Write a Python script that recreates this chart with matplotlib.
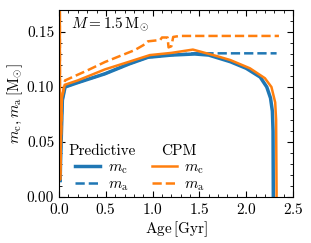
import matplotlib
matplotlib.use("Agg")
import matplotlib.pyplot as plt

plt.rcParams["font.family"] = "serif"
plt.rcParams["font.serif"] = ["cmr10"]
plt.rcParams["mathtext.fontset"] = "cm"
plt.rcParams["axes.formatter.use_mathtext"] = True
plt.rcParams["font.size"] = 11

# Predictive model
pred_age = [0.012, 0.015, 0.035, 0.064, 0.2, 0.49, 0.75, 0.95, 1.2, 1.45, 1.6, 1.83,
            2.0, 2.15, 2.22, 2.26, 2.28, 2.287, 2.29]
pred_mc = [0.015, 0.03, 0.088, 0.100, 0.104, 0.112, 0.121, 0.127, 0.129, 0.130,
           0.129, 0.123, 0.117, 0.109, 0.100, 0.090, 0.078, 0.06, 0.0]
pred_ma_age = [0.012, 0.015, 0.035, 0.064, 0.2, 0.49, 0.75, 0.95, 1.2, 1.45, 2.325]
pred_ma = [0.015, 0.03, 0.088, 0.100, 0.104, 0.112, 0.121, 0.127, 0.129, 0.1306, 0.1306]

# CPM
cpm_age = [0.008, 0.010, 0.03, 0.06, 0.2, 0.49, 0.75, 0.97, 1.2, 1.43, 1.69, 1.83,
           2.04, 2.2, 2.27, 2.31, 2.32, 2.325]
cpm_mc = [0.18, 0.016, 0.09, 0.102, 0.106, 0.116, 0.123, 0.129, 0.131, 0.134, 0.128,
          0.1245, 0.117, 0.108, 0.100, 0.086, 0.07, 0.0]
cpm_ma_age = [0.008, 0.010, 0.03, 0.064, 0.3, 0.49, 0.81, 0.9, 0.95, 1.08, 1.1, 1.16,
              1.17, 1.2, 1.22, 1.29, 2.35]
cpm_ma = [0.18, 0.016, 0.09, 0.106, 0.115, 0.1227, 0.1336, 0.138, 0.1415, 0.1427,
          0.145, 0.145, 0.136, 0.137, 0.1455, 0.1464, 0.1464]

blue = "#1f77b4"
orange = "#ff7f0e"

fig = plt.figure(figsize=(3.11, 2.43), dpi=100)
ax = fig.add_axes([0.19, 0.189, 0.752, 0.770])

l1, = ax.plot(pred_age, pred_mc, color=blue, lw=2.5, label=r"$m_{\rm c}$")
l2, = ax.plot(pred_ma_age, pred_ma, color=blue, lw=1.8, ls="--", label=r"$m_{\rm a}$")
l3, = ax.plot(cpm_age, cpm_mc, color=orange, lw=1.8, label=r"$m_{\rm c}$")
l4, = ax.plot(cpm_ma_age, cpm_ma, color=orange, lw=1.8, ls="--", label=r"$m_{\rm a}$")

ax.set_xlim(0, 2.5)
ax.set_ylim(0, 0.17)
ax.set_xticks([0.0, 0.5, 1.0, 1.5, 2.0, 2.5])
ax.set_yticks([0.0, 0.05, 0.10, 0.15])
ax.set_yticklabels(["0.00", "0.05", "0.10", "0.15"])
ax.minorticks_on()
ax.tick_params(which="both", direction="in", top=True, right=True)
ax.tick_params(which="major", length=4)
ax.tick_params(which="minor", length=2)
ax.set_xlabel(r"Age$\,[\mathrm{Gyr}]$", labelpad=2)
ax.set_ylabel(r"$m_{\rm c}, m_{\rm a}\,[\mathrm{M}_{\odot}]$", labelpad=1)

ax.text(0.05, 0.925, r"$M = 1.5\,\mathrm{M}_{\odot}$", transform=ax.transAxes,
        ha="left", va="center", fontsize=11)

leg1 = ax.legend(handles=[l1, l2], title="Predictive", loc="lower left",
                 bbox_to_anchor=(-0.02, -0.05), frameon=False, fontsize=11,
                 title_fontsize=11, handlelength=1.6, labelspacing=0.12,
                 handletextpad=0.5)
ax.add_artist(leg1)
ax.legend(handles=[l3, l4], title="CPM", loc="lower left",
          bbox_to_anchor=(0.34, -0.05), frameon=False, fontsize=11,
          title_fontsize=11, handlelength=1.6, labelspacing=0.12,
          handletextpad=0.5)

fig.savefig("out.png", dpi=100)
